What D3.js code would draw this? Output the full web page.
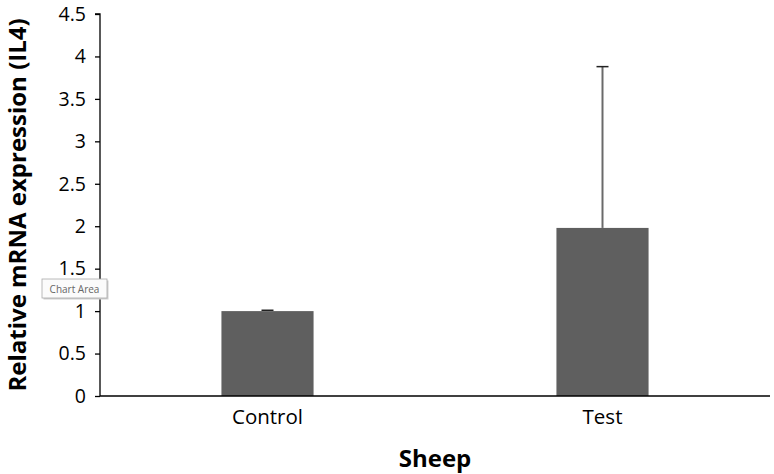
<!DOCTYPE html>
<html><head><meta charset="utf-8">
<script src="https://cdn.jsdelivr.net/npm/d3@7"></script>
<style>body{margin:0;background:#fff}svg{display:block}</style>
</head><body>
<svg id="c" width="774" height="474"></svg>
<script>
const categories = ["Control", "Test"];
const values = [1.0, 1.98];
const errors = [0.01, 1.90];
const yTicks = [0, 0.5, 1, 1.5, 2, 2.5, 3, 3.5, 4, 4.5];

const svg = d3.select("#c");
const m = {left: 100, right: 4, top: 14, bottom: 78};
const W = 774, H = 474;
const x = d3.scaleBand().domain(categories).range([m.left, W - m.right]);
const y = d3.scaleLinear().domain([0, 4.5]).range([H - m.bottom, m.top]);
const font = "'Open Sans', sans-serif";
const bw = x.bandwidth() * 0.275;

const g = svg.append("g");
g.selectAll("rect.bar").data(categories).join("rect")
  .attr("x", d => x(d) + x.bandwidth() / 2 - bw / 2)
  .attr("width", bw)
  .attr("y", (d, i) => y(values[i]))
  .attr("height", (d, i) => y(0) - y(values[i]))
  .attr("fill", "#5f5f5f");

// error bars
categories.forEach((d, i) => {
  const cx = x(d) + x.bandwidth() / 2;
  g.append("line").attr("x1", cx).attr("x2", cx)
    .attr("y1", y(values[i])).attr("y2", y(values[i] + errors[i]))
    .attr("stroke", "#6a6a6a").attr("stroke-width", 2);
  g.append("line").attr("x1", cx - 6).attr("x2", cx + 6)
    .attr("y1", y(values[i] + errors[i])).attr("y2", y(values[i] + errors[i]))
    .attr("stroke", "#222").attr("stroke-width", 1.5);
});

// y axis
const ya = svg.append("g").attr("transform", `translate(${m.left},0)`)
  .call(d3.axisLeft(y).tickValues(yTicks).tickSize(5).tickPadding(9).tickFormat(d => String(d)));
ya.select(".domain").attr("stroke", "#000").attr("stroke-width", 1.3).attr("d", `M-5,${y(4.5)}H0V${y(0)}`);
ya.selectAll(".tick line").attr("stroke", "#000").attr("stroke-width", 1.3);
ya.selectAll("text").attr("font-family", font).attr("font-size", 19.5).attr("fill", "#000");

// x axis
const xa = svg.append("g").attr("transform", `translate(0,${y(0)})`)
  .call(d3.axisBottom(x).tickSize(0).tickPadding(13));
xa.select(".domain").attr("stroke", "#000").attr("stroke-width", 1.3).attr("d", `M${m.left},0H${W - m.right}`);
xa.selectAll("text").attr("font-family", font).attr("font-size", 20.5).attr("fill", "#000");

// titles
svg.append("text").attr("x", (m.left + W - m.right) / 2).attr("y", 467)
  .attr("text-anchor", "middle").attr("font-family", font).attr("font-weight", "bold")
  .attr("font-size", 24).text("Sheep");
svg.append("text").attr("transform", `translate(26,${(y(0) + y(4.5)) / 2}) rotate(-90)`)
  .attr("text-anchor", "middle").attr("font-family", font).attr("font-weight", "bold")
  .attr("font-size", 24).text("Relative mRNA expression (IL4)");

// tooltip "Chart Area"
const tt = svg.append("g").attr("transform", "translate(42,279)");
tt.append("rect").attr("x", 1.5).attr("y", 1.5).attr("width", 65).attr("height", 19).attr("fill", "#cfcfcf");
tt.append("rect").attr("x", 0).attr("y", 0).attr("width", 65).attr("height", 19)
  .attr("fill", "#fbfbfb").attr("stroke", "#aaa").attr("stroke-width", 0.8);
tt.append("text").attr("x", 32.5).attr("y", 13.5).attr("text-anchor", "middle")
  .attr("font-family", font).attr("font-size", 10).attr("fill", "#666").text("Chart Area");
</script>
</body></html>
